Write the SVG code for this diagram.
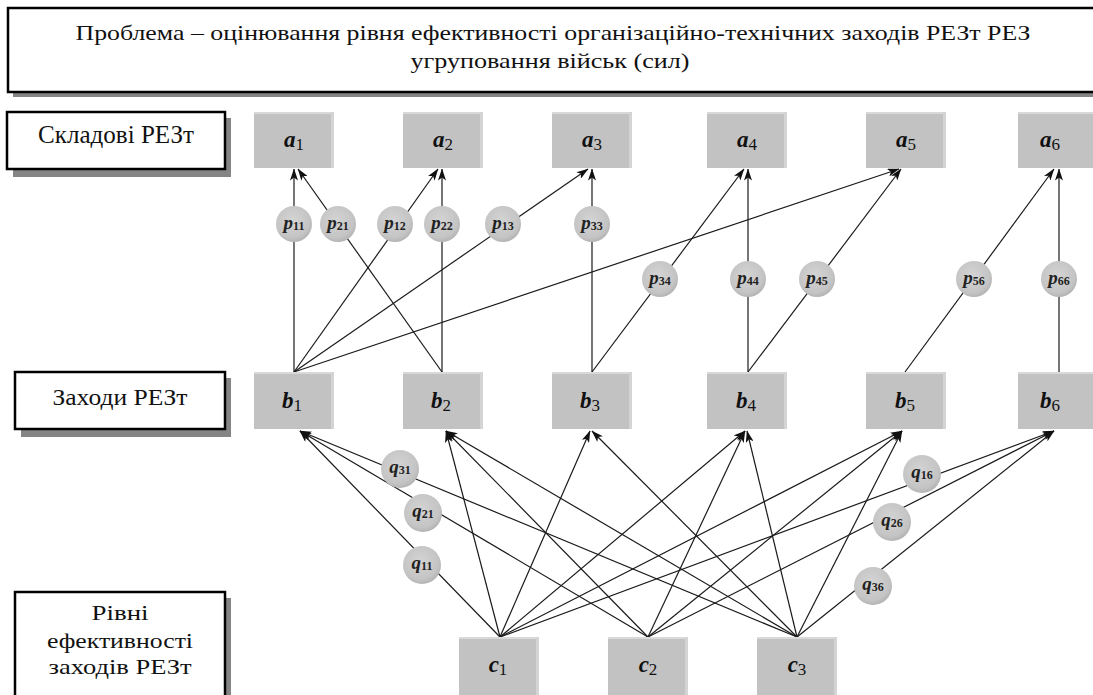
<svg xmlns="http://www.w3.org/2000/svg" width="1093" height="695" viewBox="0 0 1093 695">
<style>
.lbl{font-family:"Liberation Serif","DejaVu Serif","Times New Roman",serif;fill:#111}
.frame{fill:#fff;stroke:#000;stroke-width:2.5}
.shadow{fill:#858585}
.box{fill:#c2c2c2}
.boxtop{fill:#d9d9d9}
.boxright{fill:#d4d4d4}
.var{font-family:"Liberation Serif","DejaVu Serif",serif;font-weight:bold;font-style:italic;font-size:23px;fill:#111}
.sub{font-weight:normal;font-style:normal;font-size:17px}
.cv{font-family:"Liberation Serif","DejaVu Serif",serif;font-weight:bold;font-style:italic;font-size:19px;fill:#222}
.csub{font-style:normal;font-size:12px}
.edge{stroke:#1a1a1a;stroke-width:1.2;fill:none;marker-end:url(#ah)}
.circ{fill:url(#cg)}
</style>
<defs>
<marker id="ah" viewBox="0 0 12 8" refX="11.5" refY="4" markerWidth="12" markerHeight="8" markerUnits="userSpaceOnUse" orient="auto">
<path d="M0,0 L12,4 L0,8 L3,4 z" fill="#111"/>
</marker>
<radialGradient id="cg" cx="0.45" cy="0.4" r="0.6">
<stop offset="0" stop-color="#d4d4d4"/>
<stop offset="0.8" stop-color="#c4c4c4"/>
<stop offset="1" stop-color="#b4b4b4"/>
</radialGradient>
</defs>
<rect width="1093" height="695" fill="#fff"/>

<g id="title">
<rect class="shadow" x="13" y="13" width="1090" height="84"/>
<rect class="frame" x="8" y="8" width="1090" height="84"/>
<text class="lbl" x="553" y="40" font-size="21" text-anchor="middle" textLength="955" lengthAdjust="spacingAndGlyphs">Проблема – оцінювання рівня ефективності організаційно-технічних заходів РЕЗт РЕЗ</text>
<text class="lbl" x="550" y="68" font-size="21" text-anchor="middle" textLength="279" lengthAdjust="spacingAndGlyphs">угруповання військ (сил)</text>
</g>

<g id="label-skladovi">
<rect class="shadow" x="13" y="118" width="218" height="59"/>
<rect class="frame" x="7" y="112" width="218" height="57"/>
<text class="lbl" x="116" y="143" font-size="25" text-anchor="middle" textLength="156" lengthAdjust="spacingAndGlyphs">Складові РЕЗт</text>
</g>

<g id="label-zakhody">
<rect class="shadow" x="21" y="378" width="210" height="59"/>
<rect class="frame" x="15" y="372" width="210" height="57"/>
<text class="lbl" x="120" y="405" font-size="24" text-anchor="middle" textLength="135" lengthAdjust="spacingAndGlyphs">Заходи РЕЗт</text>
</g>

<g id="label-rivni">
<rect class="shadow" x="21" y="598" width="210" height="110"/>
<rect class="frame" x="15" y="592" width="210" height="110"/>
<text class="lbl" x="120" y="620" font-size="22" text-anchor="middle" textLength="57" lengthAdjust="spacingAndGlyphs">Рівні</text>
<text class="lbl" x="120" y="648" font-size="22" text-anchor="middle" textLength="146" lengthAdjust="spacingAndGlyphs">ефективності</text>
<text class="lbl" x="120" y="674" font-size="22" text-anchor="middle" textLength="143" lengthAdjust="spacingAndGlyphs">заходів РЕЗт</text>
</g>

<g id="connectors">
<line class="edge" x1="294" y1="372" x2="294" y2="169"/>
<line class="edge" x1="442" y1="372" x2="298" y2="169"/>
<line class="edge" x1="294" y1="372" x2="438" y2="169"/>
<line class="edge" x1="442" y1="372" x2="442" y2="169"/>
<line class="edge" x1="294" y1="372" x2="588" y2="169"/>
<line class="edge" x1="592" y1="372" x2="592" y2="169"/>
<line class="edge" x1="592" y1="372" x2="744" y2="169"/>
<line class="edge" x1="748" y1="372" x2="748" y2="169"/>
<line class="edge" x1="748" y1="372" x2="901" y2="169"/>
<line class="edge" x1="294" y1="372" x2="899" y2="169"/>
<line class="edge" x1="905" y1="372" x2="1054" y2="169"/>
<line class="edge" x1="1059" y1="372" x2="1059" y2="169"/>

<line class="edge" x1="500" y1="637" x2="300" y2="431"/>
<line class="edge" x1="500" y1="637" x2="446" y2="431"/>
<line class="edge" x1="500" y1="637" x2="590" y2="431"/>
<line class="edge" x1="500" y1="637" x2="745" y2="431"/>
<line class="edge" x1="500" y1="637" x2="902" y2="431"/>
<line class="edge" x1="500" y1="637" x2="1054" y2="431"/>

<line class="edge" x1="648" y1="637" x2="300" y2="431"/>
<line class="edge" x1="648" y1="637" x2="446" y2="431"/>
<line class="edge" x1="648" y1="637" x2="745" y2="431"/>
<line class="edge" x1="648" y1="637" x2="902" y2="431"/>
<line class="edge" x1="648" y1="637" x2="1054" y2="431"/>

<line class="edge" x1="797" y1="637" x2="300" y2="431"/>
<line class="edge" x1="797" y1="637" x2="446" y2="431"/>
<line class="edge" x1="797" y1="637" x2="592" y2="431"/>
<line class="edge" x1="797" y1="637" x2="747" y2="431"/>
<line class="edge" x1="797" y1="637" x2="902" y2="431"/>
<line class="edge" x1="797" y1="637" x2="1054" y2="431"/>
</g>

<g id="a1"><rect class="box" x="254" y="112" width="80" height="56"/><rect class="boxtop" x="254" y="112" width="80" height="2"/><rect class="boxright" x="331" y="112" width="3" height="56"/><text class="var" x="294" y="147" text-anchor="middle">a<tspan class="sub" dy="3">1</tspan></text></g>
<g id="a2"><rect class="box" x="403" y="112" width="80" height="56"/><rect class="boxtop" x="403" y="112" width="80" height="2"/><rect class="boxright" x="480" y="112" width="3" height="56"/><text class="var" x="443" y="147" text-anchor="middle">a<tspan class="sub" dy="3">2</tspan></text></g>
<g id="a3"><rect class="box" x="552" y="112" width="80" height="56"/><rect class="boxtop" x="552" y="112" width="80" height="2"/><rect class="boxright" x="629" y="112" width="3" height="56"/><text class="var" x="592" y="147" text-anchor="middle">a<tspan class="sub" dy="3">3</tspan></text></g>
<g id="a4"><rect class="box" x="707" y="112" width="80" height="56"/><rect class="boxtop" x="707" y="112" width="80" height="2"/><rect class="boxright" x="784" y="112" width="3" height="56"/><text class="var" x="747" y="147" text-anchor="middle">a<tspan class="sub" dy="3">4</tspan></text></g>
<g id="a5"><rect class="box" x="866" y="112" width="80" height="56"/><rect class="boxtop" x="866" y="112" width="80" height="2"/><rect class="boxright" x="943" y="112" width="3" height="56"/><text class="var" x="906" y="147" text-anchor="middle">a<tspan class="sub" dy="3">5</tspan></text></g>
<g id="a6"><rect class="box" x="1018" y="112" width="80" height="56"/><rect class="boxtop" x="1018" y="112" width="80" height="2"/><text class="var" x="1050" y="147" text-anchor="middle">a<tspan class="sub" dy="3">6</tspan></text></g>

<g id="b1"><rect class="box" x="254" y="372" width="80" height="57"/><rect class="boxtop" x="254" y="372" width="80" height="2"/><rect class="boxright" x="331" y="372" width="3" height="57"/><text class="var" x="292" y="408" text-anchor="middle">b<tspan class="sub" dy="3">1</tspan></text></g>
<g id="b2"><rect class="box" x="403" y="372" width="80" height="57"/><rect class="boxtop" x="403" y="372" width="80" height="2"/><rect class="boxright" x="480" y="372" width="3" height="57"/><text class="var" x="441" y="408" text-anchor="middle">b<tspan class="sub" dy="3">2</tspan></text></g>
<g id="b3"><rect class="box" x="552" y="372" width="80" height="57"/><rect class="boxtop" x="552" y="372" width="80" height="2"/><rect class="boxright" x="629" y="372" width="3" height="57"/><text class="var" x="590" y="408" text-anchor="middle">b<tspan class="sub" dy="3">3</tspan></text></g>
<g id="b4"><rect class="box" x="707" y="372" width="80" height="57"/><rect class="boxtop" x="707" y="372" width="80" height="2"/><rect class="boxright" x="784" y="372" width="3" height="57"/><text class="var" x="746" y="408" text-anchor="middle">b<tspan class="sub" dy="3">4</tspan></text></g>
<g id="b5"><rect class="box" x="866" y="372" width="80" height="57"/><rect class="boxtop" x="866" y="372" width="80" height="2"/><rect class="boxright" x="943" y="372" width="3" height="57"/><text class="var" x="905" y="408" text-anchor="middle">b<tspan class="sub" dy="3">5</tspan></text></g>
<g id="b6"><rect class="box" x="1018" y="372" width="80" height="57"/><rect class="boxtop" x="1018" y="372" width="80" height="2"/><text class="var" x="1050" y="408" text-anchor="middle">b<tspan class="sub" dy="3">6</tspan></text></g>

<g id="c1"><rect class="box" x="459" y="637" width="80" height="62"/><rect class="boxtop" x="459" y="637" width="80" height="2"/><rect class="boxright" x="536" y="637" width="3" height="62"/><text class="var" x="498" y="672" text-anchor="middle">c<tspan class="sub" dy="3">1</tspan></text></g>
<g id="c2"><rect class="box" x="608" y="637" width="80" height="62"/><rect class="boxtop" x="608" y="637" width="80" height="2"/><rect class="boxright" x="685" y="637" width="3" height="62"/><text class="var" x="648" y="672" text-anchor="middle">c<tspan class="sub" dy="3">2</tspan></text></g>
<g id="c3"><rect class="box" x="757" y="637" width="80" height="62"/><rect class="boxtop" x="757" y="637" width="80" height="2"/><rect class="boxright" x="834" y="637" width="3" height="62"/><text class="var" x="797" y="672" text-anchor="middle">c<tspan class="sub" dy="3">3</tspan></text></g>

<g id="p11"><circle class="circ" cx="294" cy="224" r="18"/><text class="cv" x="294" y="229" text-anchor="middle">p<tspan class="csub" dy="1">11</tspan></text></g>
<g id="p21"><circle class="circ" cx="338" cy="224" r="18"/><text class="cv" x="338" y="229" text-anchor="middle">p<tspan class="csub" dy="1">21</tspan></text></g>
<g id="p12"><circle class="circ" cx="395" cy="224" r="18"/><text class="cv" x="395" y="229" text-anchor="middle">p<tspan class="csub" dy="1">12</tspan></text></g>
<g id="p22"><circle class="circ" cx="442" cy="224" r="18"/><text class="cv" x="442" y="229" text-anchor="middle">p<tspan class="csub" dy="1">22</tspan></text></g>
<g id="p13"><circle class="circ" cx="503" cy="224" r="18"/><text class="cv" x="503" y="229" text-anchor="middle">p<tspan class="csub" dy="1">13</tspan></text></g>
<g id="p33"><circle class="circ" cx="592" cy="224" r="18"/><text class="cv" x="592" y="229" text-anchor="middle">p<tspan class="csub" dy="1">33</tspan></text></g>
<g id="p34"><circle class="circ" cx="660" cy="279" r="18"/><text class="cv" x="660" y="284" text-anchor="middle">p<tspan class="csub" dy="1">34</tspan></text></g>
<g id="p44"><circle class="circ" cx="748" cy="279" r="18"/><text class="cv" x="748" y="284" text-anchor="middle">p<tspan class="csub" dy="1">44</tspan></text></g>
<g id="p45"><circle class="circ" cx="817" cy="279" r="18"/><text class="cv" x="817" y="284" text-anchor="middle">p<tspan class="csub" dy="1">45</tspan></text></g>
<g id="p56"><circle class="circ" cx="974" cy="279" r="18"/><text class="cv" x="974" y="284" text-anchor="middle">p<tspan class="csub" dy="1">56</tspan></text></g>
<g id="p66"><circle class="circ" cx="1059" cy="279" r="18"/><text class="cv" x="1059" y="284" text-anchor="middle">p<tspan class="csub" dy="1">66</tspan></text></g>

<g id="q31"><circle class="circ" cx="400" cy="469" r="19"/><text class="cv" x="400" y="473" text-anchor="middle">q<tspan class="csub" dy="1">31</tspan></text></g>
<g id="q21"><circle class="circ" cx="423" cy="513" r="19"/><text class="cv" x="423" y="517" text-anchor="middle">q<tspan class="csub" dy="1">21</tspan></text></g>
<g id="q11"><circle class="circ" cx="422" cy="565" r="19"/><text class="cv" x="422" y="569" text-anchor="middle">q<tspan class="csub" dy="1">11</tspan></text></g>
<g id="q16"><circle class="circ" cx="922" cy="474" r="19"/><text class="cv" x="922" y="478" text-anchor="middle">q<tspan class="csub" dy="1">16</tspan></text></g>
<g id="q26"><circle class="circ" cx="892" cy="522" r="19"/><text class="cv" x="892" y="526" text-anchor="middle">q<tspan class="csub" dy="1">26</tspan></text></g>
<g id="q36"><circle class="circ" cx="873" cy="586" r="19"/><text class="cv" x="873" y="590" text-anchor="middle">q<tspan class="csub" dy="1">36</tspan></text></g>
</svg>
